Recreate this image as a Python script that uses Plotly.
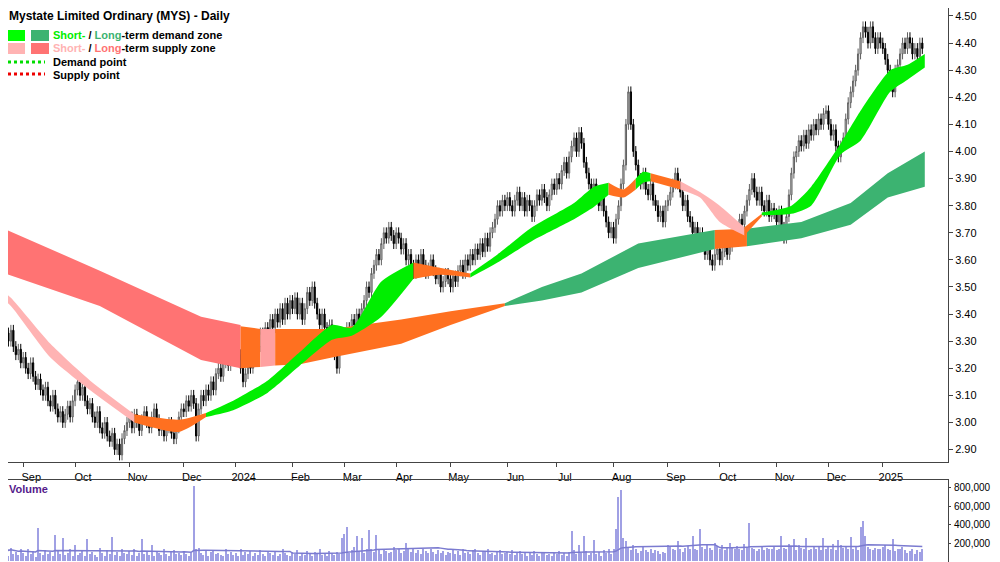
import numpy as np, pandas as pd
import plotly.graph_objects as go

closes = [
3.40,3.36,3.33,3.30,3.34,3.28,3.25,3.27,3.22,
3.24,3.20,3.18,3.22,3.17,3.14,3.16,3.12,3.10,3.13,3.08,3.06,3.10,3.05,3.02,3.04,3.00,3.03,3.06,3.02,3.08,
3.12,3.15,3.10,3.13,3.08,3.05,3.07,3.02,3.00,3.04,2.98,2.96,3.00,2.95,2.93,2.96,2.90,2.92,2.88,2.94,2.97,3.00,
3.02,2.98,3.03,3.00,2.97,3.01,3.04,3.00,2.98,3.02,3.05,3.01,2.97,2.99,2.95,2.98,3.00,2.96,2.94,2.98,3.02,3.05,
3.04,3.08,3.06,3.10,3.07,2.95,3.05,3.10,3.08,3.12,3.10,3.15,3.12,3.18,3.20,3.17,3.22,3.25,3.21,3.24,3.27,
3.30,3.25,3.20,3.15,3.18,3.22,3.20,3.26,3.30,3.28,3.33,3.30,3.35,3.32,3.38,3.35,3.40,3.37,3.42,3.38,3.44,3.40,3.45,
3.42,3.46,3.40,3.44,3.38,3.42,3.48,3.45,3.50,3.44,3.40,3.36,3.40,3.35,3.32,3.36,3.30,3.25,3.20,3.28,3.32,
3.30,3.35,3.33,3.38,3.36,3.40,3.37,3.42,3.45,3.50,3.48,3.55,3.58,3.62,3.60,3.66,3.70,3.68,3.72,3.69,3.66,
3.70,3.68,3.64,3.66,3.60,3.62,3.58,3.55,3.60,3.57,3.62,3.58,3.55,3.57,3.60,3.56,3.53,3.55,3.50,3.52,3.55,3.53,
3.50,3.54,3.52,3.56,3.58,3.55,3.60,3.58,3.62,3.60,3.64,3.62,3.66,3.63,3.68,3.65,3.70,3.72,3.75,3.80,3.78,3.82,3.80,
3.83,3.80,3.78,3.82,3.85,3.80,3.83,3.78,3.82,3.80,3.76,3.80,3.84,3.82,3.86,3.83,3.80,3.84,3.88,3.86,
3.90,3.88,3.93,3.96,3.92,3.98,4.02,4.05,4.00,4.07,4.03,3.96,3.92,3.88,3.85,3.88,3.84,3.80,3.83,3.78,3.74,3.70,3.72,
3.68,3.75,3.80,3.88,3.95,4.10,4.22,4.10,4.00,3.95,3.90,3.88,3.92,3.86,3.84,3.88,3.82,3.80,3.76,3.78,3.74,3.80,
3.82,3.85,3.88,3.92,3.88,3.85,3.80,3.82,3.76,3.74,3.70,3.72,3.68,3.70,3.66,3.62,3.65,3.60,3.58,3.62,3.64,
3.60,3.63,3.66,3.62,3.65,3.68,3.72,3.70,3.75,3.73,3.78,3.82,3.86,3.90,3.85,3.82,3.85,3.80,3.78,3.82,3.76,3.79,3.77,
3.74,3.78,3.72,3.68,3.76,3.84,3.92,3.98,4.00,4.04,4.02,4.06,4.03,4.08,4.06,4.10,4.08,4.12,4.10,4.14,4.15,
4.10,4.06,4.08,4.02,3.98,4.02,4.05,4.12,4.18,4.22,4.26,4.30,4.36,4.42,4.46,4.44,4.40,4.46,4.42,4.38,4.42,4.40,
4.38,4.34,4.30,4.28,4.22,4.30,4.32,4.36,4.40,4.38,4.42,4.40,4.36,4.38,4.35,4.40,4.38,4.44]

vol_k = [
210,90,120,60,150,80,100,70,130,
90,60,140,80,110,50,360,90,70,120,80,100,60,290,110,80,250,70,90,130,60,
180,70,90,110,60,240,80,100,70,50,150,90,60,120,80,270,70,100,60,140,90,80,
110,70,130,60,90,240,80,100,70,180,60,110,90,70,130,80,60,100,120,80,90,70,
110,80,60,90,820,130,150,90,70,110,60,100,120,80,90,70,60,140,80,100,70,
90,60,130,70,100,80,110,60,90,70,120,80,60,100,90,70,110,60,80,130,90,70,60,
100,80,120,60,90,70,110,80,60,100,90,130,70,80,60,110,90,70,100,80,250,
300,380,90,120,160,280,110,250,90,140,340,130,100,290,120,80,140,110,90,100,160,
120,140,90,110,200,130,100,150,90,120,80,140,110,90,130,100,80,120,90,110,70,100,
90,120,80,110,70,130,90,100,80,120,140,90,70,110,100,130,80,90,70,110,120,80,90,
100,80,120,70,90,110,80,100,60,90,70,110,80,60,100,90,70,80,60,90,
80,110,70,90,60,100,330,120,80,180,90,280,110,70,90,230,80,100,60,120,90,140,80,
130,350,700,780,250,220,160,120,180,140,90,110,160,120,100,130,90,120,110,80,100,90,
180,160,140,120,220,130,100,150,170,140,280,130,120,350,160,140,190,150,120,200,170,
140,180,120,160,200,150,130,170,140,120,190,160,420,150,130,110,140,170,120,150,130,130,
160,120,140,280,150,130,190,160,240,120,180,150,140,260,120,130,170,140,160,120,250,
130,160,140,190,120,230,180,150,160,140,270,130,170,120,380,440,280,160,140,120,150,130,
130,160,180,140,120,240,110,140,130,160,120,90,110,130,80,120,100,130]

ORANGE, PINK, RED, GREEN, DGREEN = "#ff7020", "#ffb3b3", "#ff7373", "#00ee00", "#3cb371"
long_segments = [
 (RED, [0,40,81,97], [3.72,3.56,3.39,3.36], [3.555,3.43,3.23,3.20]),
 (ORANGE, [97,105], [3.355,3.345], [3.20,3.205]),
 ("#ffa0a0", [105,111], [3.345,3.345], [3.205,3.21]),
 (ORANGE, [111,121,134,162,182,204], [3.345,3.345,3.345,3.38,3.41,3.44], [3.21,3.215,3.24,3.29,3.36,3.43]),
 (DGREEN, [204,219,235,258,289], [3.44,3.50,3.55,3.66,3.71], [3.43,3.45,3.48,3.57,3.64]),
 (ORANGE, [289,302], [3.71,3.715], [3.64,3.65]),
 (DGREEN, [302,324,344,359,374], [3.715,3.74,3.81,3.92,4.00], [3.65,3.68,3.73,3.83,3.87]),
]
short_segments = [
 (PINK, [0,4,20,36,54], [3.49,3.46,3.29,3.155,3.03], [3.46,3.43,3.24,3.12,3.00]),
 (ORANGE, [54,72,83], [3.03,3.01,3.035], [3.00,2.965,3.02]),
 (GREEN, [83,94,108,121,134,142,154,167], [3.035,3.08,3.155,3.26,3.36,3.35,3.52,3.59], [3.02,3.045,3.11,3.21,3.305,3.32,3.39,3.53]),
 (ORANGE, [167,178,190], [3.59,3.57,3.55], [3.53,3.545,3.535]),
 (GREEN, [190,201,215,232,240,246], [3.55,3.62,3.72,3.81,3.87,3.885], [3.535,3.59,3.67,3.75,3.795,3.84]),
 (ORANGE, [246,252,257], [3.885,3.86,3.90], [3.84,3.83,3.86]),
 (GREEN, [257,260,263], [3.90,3.925,3.92], [3.86,3.885,3.89]),
 (ORANGE, [263,275], [3.92,3.89], [3.89,3.86]),
 (PINK, [275,283,291,301], [3.89,3.85,3.80,3.72], [3.86,3.83,3.74,3.69]),
 (ORANGE, [301,308], [3.72,3.77], [3.69,3.76]),
 (GREEN, [308,320,328,340,348,360,367,374], [3.775,3.80,3.87,4.03,4.15,4.30,4.32,4.36], [3.765,3.77,3.80,3.99,4.04,4.22,4.265,4.31]),
]

n = min(len(closes), len(vol_k))
closes = closes[:n]; vol = np.array(vol_k[:n]) * 1000
dates = pd.bdate_range("2023-08-21", periods=n)
x = np.arange(n)
c = np.array(closes)
o = np.r_[c[0] + 0.02, c[:-1]]
h = np.maximum(o, c) + 0.02
l = np.minimum(o, c) - 0.02

fig = go.Figure()
for segs, shp in ((long_segments, "linear"), (short_segments, "spline")):
    for col, xi, top, bot in segs:
        fig.add_trace(go.Scatter(x=xi, y=bot, mode="lines", line=dict(width=0, color=col, shape=shp, smoothing=0.6),
                                 showlegend=False, hoverinfo="skip"))
        fig.add_trace(go.Scatter(x=xi, y=top, mode="lines", line=dict(width=0, color=col, shape=shp, smoothing=0.6),
                                 fill="tonexty", fillcolor=col, showlegend=False, hoverinfo="skip"))

fig.add_trace(go.Candlestick(x=x, open=o, high=h, low=l, close=c, showlegend=False,
    increasing=dict(fillcolor="#d8d8d8", line=dict(color="#606060", width=1)),
    decreasing=dict(fillcolor="#000000", line=dict(color="#000000", width=1)),
    xaxis="x", yaxis="y"))

fig.add_trace(go.Bar(x=x, y=vol, marker=dict(color="#a0a0e4", line=dict(width=0)), width=0.45,
                     xaxis="x2", yaxis="y2", showlegend=False))
vma = pd.Series(vol).rolling(40, min_periods=1).mean()
fig.add_trace(go.Scatter(x=x, y=vma, mode="lines", line=dict(color="#7b7bd0", width=1.5),
                         xaxis="x2", yaxis="y2", showlegend=False))

tickv, tickt = [], []
for i in range(1, n):
    if dates[i].month != dates[i-1].month:
        tickv.append(i)
        tickt.append(str(dates[i].year) if dates[i].month == 1 else dates[i].strftime("%b"))

FW, FH, MR = 992, 554, 52
PW = FW - MR
def SX(sx): return (sx - 8) / PW
def SY(sy): return 1 - (sy - 8) / FH
K = 2.47
xr = [(8 - 1) / K, (948 - 1) / K]

tf = dict(family="Liberation Sans, Arial", size=11, color="black")
vf = dict(family="Liberation Sans, Arial", size=10, color="black")
fig.update_layout(
    width=FW, height=FH, margin=dict(l=0, r=MR, t=0, b=0),
    paper_bgcolor="white", plot_bgcolor="white", font=tf, bargap=0,
    xaxis=dict(range=xr, domain=[0, 1], anchor="y", tickvals=tickv, ticktext=tickt, ticks="outside",
               ticklen=4, tickcolor="#444", showgrid=False, showline=True, linecolor="#444",
               rangeslider=dict(visible=False), tickfont=tf, ticklabelshift=8, ticklabelstandoff=1),
    yaxis=dict(domain=[1 - 454/FH, 1], range=[2.854, 4.5295], side="right",
               tickvals=[round(2.9 + 0.1*k, 2) for k in range(17)], tickformat=".2f",
               showgrid=False, showline=True, linecolor="#444", ticks="outside", ticklen=4, tickcolor="#444",
               zeroline=False, tickfont=tf),
    xaxis2=dict(range=xr, domain=[0, 1], anchor="y2", showticklabels=False, showgrid=False,
                showline=True, linecolor="#444", side="top", ticks=""),
    yaxis2=dict(domain=[0, 82/FH], range=[-7000, 887000], side="right", anchor="x2",
                tickvals=[200000, 400000, 600000, 800000], tickformat=",d", showgrid=False,
                showline=True, linecolor="#444", ticks="outside", ticklen=2, tickcolor="#444",
                zeroline=False, tickfont=vf, ticklabelstandoff=1),
)

shapes = []
for x0, x1, col, y0 in [(8, 25, "#00ff00", 30), (31, 49, DGREEN, 30), (8, 25, PINK, 43), (31, 49, RED, 43)]:
    shapes.append(dict(type="rect", xref="paper", yref="paper", x0=SX(x0), x1=SX(x1), y0=SY(y0+11), y1=SY(y0),
                       fillcolor=col, line=dict(width=0)))
for yy, col in [(62, "#00dd00"), (74, "#ee0000")]:
    shapes.append(dict(type="line", xref="paper", yref="paper", x0=SX(8), x1=SX(45), y0=SY(yy), y1=SY(yy),
                       line=dict(color=col, width=3, dash="dot")))
fig.update_layout(shapes=shapes)

fig.add_annotation(x=SX(8), y=1, xref="paper", yref="paper", text="<b>Mystate Limited Ordinary (MYS) - Daily</b>",
                   showarrow=False, xanchor="left", yanchor="top", borderpad=0,
                   font=dict(family="Liberation Sans, Arial", size=12, color="black"))
ann = [
 (52, 35, "<b><span style='color:#00ee00'>Short-</span> / <span style='color:#3cb371'>Long</span>-term demand zone</b>"),
 (52, 48, "<b><span style='color:#ffb3b3'>Short-</span> / <span style='color:#ff7373'>Long</span>-term supply zone</b>"),
 (52, 62, "<b>Demand point</b>"),
 (52, 75, "<b>Supply point</b>"),
 (8, 489, "<b><span style='color:#551a8b'>Volume</span></b>"),
]
for xa, ya, t in ann:
    fig.add_annotation(x=SX(xa), y=SY(ya), xref="paper", yref="paper", text=t, showarrow=False,
                       xanchor="left", yanchor="middle", borderpad=0,
                       font=dict(family="Liberation Sans, Arial", size=11, color="black"))

fig.write_html("out.html")
